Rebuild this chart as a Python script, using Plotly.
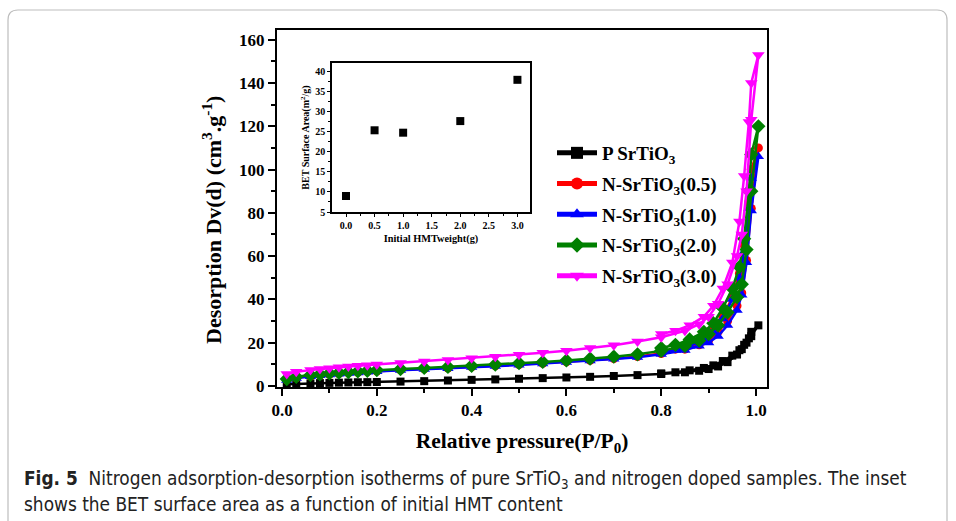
import plotly.graph_objects as go

W, H = 956, 521

# ---------------- data ----------------
series_names = ["P SrTiO<sub>3</sub>", "N-SrTiO<sub>3</sub>(0.5)", "N-SrTiO<sub>3</sub>(1.0)",
                "N-SrTiO<sub>3</sub>(2.0)", "N-SrTiO<sub>3</sub>(3.0)"]

p_ads = [0.01, 0.03, 0.06, 0.08, 0.10, 0.12, 0.14, 0.16, 0.18, 0.20, 0.25, 0.30, 0.35, 0.40,
         0.45, 0.50, 0.55, 0.60, 0.65, 0.70, 0.75, 0.80, 0.85, 0.88, 0.90, 0.92, 0.94, 0.96,
         0.97, 0.98, 0.99, 1.005]
p_des = [0.99, 0.985, 0.975, 0.965, 0.95, 0.93, 0.91, 0.89, 0.86, 0.83, 0.80]

black_ads = [0.8, 1.0, 1.2, 1.3, 1.4, 1.5, 1.6, 1.7, 1.75, 1.8, 2.0, 2.2, 2.5, 2.8,
             3.0, 3.3, 3.6, 3.9, 4.2, 4.6, 5.0, 5.5, 6.3, 7.0, 7.8, 9.0, 11.0, 14.5,
             17.0, 20.0, 23.0, 28.0]
black_des = [25.0, 22.0, 19.0, 16.5, 14.0, 11.5, 9.5, 8.3, 7.2, 6.3, 5.8]

red_ads = [2.8, 3.8, 4.6, 5.0, 5.4, 5.7, 6.0, 6.3, 6.6, 6.9, 7.4, 7.9, 8.3, 8.8,
           9.3, 9.9, 10.5, 11.1, 11.8, 12.6, 13.6, 15.0, 17.0, 19.0, 21.0, 25.0, 30.0, 37.0,
           43.0, 58.0, 82.0, 110.0]
red_des = [100.0, 85.0, 65.0, 52.0, 41.0, 32.0, 26.0, 22.0, 19.0, 17.0, 16.0]

blue_ads = [2.6, 3.6, 4.4, 4.8, 5.2, 5.5, 5.8, 6.1, 6.4, 6.7, 7.2, 7.7, 8.1, 8.6,
            9.1, 9.7, 10.3, 10.9, 11.6, 12.4, 13.3, 14.6, 16.5, 18.5, 20.0, 23.0, 28.0, 35.0,
            42.0, 57.0, 81.0, 106.0]
blue_des = [96.0, 82.0, 62.0, 50.0, 40.0, 31.0, 25.0, 21.0, 18.5, 16.5, 15.5]

green_ads = [3.2, 4.2, 5.0, 5.4, 5.8, 6.1, 6.4, 6.7, 7.0, 7.3, 7.8, 8.3, 8.8, 9.3,
             9.9, 10.5, 11.1, 11.8, 12.6, 13.5, 14.6, 16.2, 18.5, 21.0, 24.0, 28.0, 34.0, 41.0,
             47.0, 63.0, 90.0, 120.0]
green_des = [107.0, 90.0, 68.0, 55.0, 45.0, 36.0, 29.0, 25.0, 21.5, 19.0, 17.5]

pink_ads = [5.5, 6.5, 7.3, 7.8, 8.2, 8.6, 9.0, 9.3, 9.6, 9.9, 10.6, 11.3, 12.0, 12.8,
            13.5, 14.4, 15.3, 16.3, 17.5, 18.8, 20.5, 22.5, 25.5, 28.5, 32.0, 38.0, 47.0, 60.0,
            70.0, 90.0, 123.0, 153.0]
pink_des = [140.0, 122.0, 97.0, 76.0, 57.0, 45.0, 37.0, 32.0, 28.0, 25.5, 24.0]

inset_x = [0.0, 0.5, 1.0, 2.0, 3.0]
inset_y = [9.0, 25.4, 24.8, 27.7, 38.0]

# ---------------- styles ----------------
colors = ["#000000", "#ff0000", "#0000ff", "#008000", "#ff00ff"]
symbols = ["square", "circle", "triangle-up", "diamond", "triangle-down"]
msizes = [8, 9, 10, 11, 11]
ads_all = [black_ads, red_ads, blue_ads, green_ads, pink_ads]
des_all = [black_des, red_des, blue_des, green_des, pink_des]

SERIF = "Liberation Serif, Times New Roman, serif"

fig = go.Figure()
for i, (name, c, s, ms, ya, yd) in enumerate(zip(series_names, colors, symbols, msizes, ads_all, des_all)):
    fig.add_trace(go.Scatter(
        x=p_ads + p_des, y=ya + yd, mode="lines+markers", name="<b>" + name + "</b>",
        legendgroup=f"g{i}",
        line=dict(color=c, width=2.5),
        marker=dict(symbol=s, size=ms, color=c),
        xaxis="x", yaxis="y"))

fig.add_trace(go.Scatter(
    x=inset_x, y=inset_y, mode="markers", showlegend=False,
    marker=dict(symbol="square", size=8, color="black"),
    xaxis="x2", yaxis="y2"))

def px(x):
    return x / W

def py(y):
    return 1 - y / H

axis_common = dict(showline=True, linecolor="black", mirror=True, ticks="outside",
                   tickcolor="black", showgrid=False, zeroline=False, automargin=False)

fig.update_layout(
    width=W, height=H, margin=dict(l=0, r=0, t=0, b=0, autoexpand=False),
    paper_bgcolor="white", plot_bgcolor="white",
    xaxis=dict(domain=[px(277), px(767)], range=[-0.0106, 1.0232], anchor="y",
               dtick=0.2, tick0=0, tickformat=".1f", linewidth=2, ticklen=7, tickwidth=2,
               minor=dict(dtick=0.1, ticks="outside", ticklen=4, tickcolor="black", tickwidth=1.5),
               tickfont=dict(family=SERIF, size=17, color="black", weight="bold"),
               title=dict(text="<b>Relative pressure(P/P<sub>0</sub>)</b>",
                          font=dict(family=SERIF, size=21.5, color="black"), standoff=14),
               **axis_common),
    yaxis=dict(domain=[py(387), py(30)], range=[-0.5, 164.5], anchor="x",
               dtick=20, tick0=0, linewidth=2, ticklen=7, tickwidth=2,
               minor=dict(dtick=10, ticks="outside", ticklen=4, tickcolor="black", tickwidth=1.5),
               tickfont=dict(family=SERIF, size=17, color="black", weight="bold"),
               **axis_common),
    xaxis2=dict(domain=[px(332), px(530)], range=[-0.245, 3.22], anchor="y2",
                dtick=0.5, tick0=0, tickformat=".1f", linewidth=1.5, ticklen=3, tickwidth=1,
                minor=dict(dtick=0.25, ticks="outside", ticklen=2, tickcolor="black"),
                tickfont=dict(family=SERIF, size=10, color="black", weight="bold"),
                title=dict(text="<b>Initial HMTweight(g)</b>",
                           font=dict(family=SERIF, size=10.3, color="black"), standoff=5),
                **axis_common),
    yaxis2=dict(domain=[py(212), py(63)], range=[5, 42.2], anchor="x2",
                dtick=5, tick0=5, linewidth=1.5, ticklen=3, tickwidth=1,
                minor=dict(dtick=2.5, ticks="outside", ticklen=2, tickcolor="black"),
                tickfont=dict(family=SERIF, size=10, color="black", weight="bold"),
                title=dict(text="<b>BET Surface Area(m<sup>2</sup>/g)</b>",
                           font=dict(family=SERIF, size=10, color="black"), standoff=4),
                **axis_common),
    legend=dict(x=px(552), y=py(134), xanchor="left", yanchor="top",
                bgcolor="rgba(0,0,0,0)", borderwidth=0, tracegroupgap=3,
                itemwidth=40,
                font=dict(family=SERIF, size=19, color="black"),
                itemsizing="constant"),
    showlegend=True,
)

# main y-axis title (placed as rotated text)
fig.add_annotation(
    x=px(212), y=py(220), xref="paper", yref="paper", xanchor="center", yanchor="middle",
    showarrow=False, textangle=-90,
    text="<b>Desorption Dv(d) (cm<sup>3</sup>.g<sup>-1</sup>)</b>",
    font=dict(family=SERIF, size=22, color="black"))

# figure frame (rounded top corners)
r = 10
x0, x1, y0 = 8, 947, 10
path = (f"M {px(x0)},0 L {px(x0)},{py(y0 + r)} "
        f"Q {px(x0)},{py(y0)} {px(x0 + r)},{py(y0)} "
        f"L {px(x1 - r)},{py(y0)} Q {px(x1)},{py(y0)} {px(x1)},{py(y0 + r)} "
        f"L {px(x1)},0")
fig.add_shape(type="path", path=path, xref="paper", yref="paper",
              line=dict(color="#bdbdbd", width=1.2))

CAP = "DejaVu Sans Condensed, Liberation Sans Narrow, Arial Narrow, sans-serif"
fig.add_annotation(
    x=px(22), y=py(479), xref="paper", yref="paper", xanchor="left", yanchor="middle",
    showarrow=False, align="left",
    text="<b>Fig. 5</b>  Nitrogen adsorption-desorption isotherms of pure SrTiO<sub>3</sub> and nitrogen doped samples. The inset",
    font=dict(family=CAP, size=18.9, color="#222222"))
fig.add_annotation(
    x=px(22), y=py(504), xref="paper", yref="paper", xanchor="left", yanchor="middle",
    showarrow=False, align="left",
    text="shows the BET surface area as a function of initial HMT content",
    font=dict(family=CAP, size=18.9, color="#222222"))

fig.write_html("out.html")
